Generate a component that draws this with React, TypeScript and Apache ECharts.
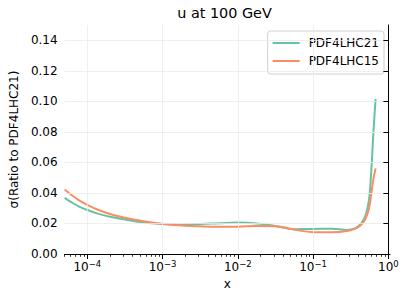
import React, { useEffect, useRef } from 'react';
import * as echarts from 'echarts';

// x values (momentum fraction)
const xValues = [
  5.0e-5, 6.3e-5, 7.9e-5, 1.0e-4, 1.41e-4, 2.0e-4, 3.16e-4, 5.62e-4, 1.0e-3, 1.78e-3,
  3.16e-3, 5.62e-3, 1.0e-2, 1.78e-2, 3.16e-2, 5.62e-2, 0.1, 0.178, 0.282, 0.355,
  0.417, 0.468, 0.501, 0.553, 0.594, 0.631, 0.676,
];
const pdf4lhc21 = [
  0.0368, 0.0336, 0.0309, 0.0288, 0.0263, 0.0244, 0.0226, 0.0206, 0.0197, 0.0194,
  0.0196, 0.0201, 0.0206, 0.02, 0.0184, 0.0162, 0.0164, 0.0166, 0.0158, 0.0166,
  0.019, 0.0225, 0.0257, 0.0356, 0.0554, 0.079, 0.1016,
];
const pdf4lhc15 = [
  0.0422, 0.0383, 0.035, 0.0322, 0.0288, 0.0262, 0.0237, 0.0214, 0.0197, 0.0187,
  0.0181, 0.0178, 0.0179, 0.0183, 0.0182, 0.016, 0.0143, 0.0142, 0.015, 0.0165,
  0.0183, 0.021, 0.0236, 0.03, 0.04, 0.0488, 0.0561,
];
const seriesNames = ['PDF4LHC21', 'PDF4LHC15'];
const seriesColors = ['#66c2a5', '#fc8d62'];
const xTickExponents = [-4, -3, -2, -1, 0];
const yTicks = [0, 0.02, 0.04, 0.06, 0.08, 0.1, 0.12, 0.14];
const titleText = 'u at 100 GeV';
const xName = 'x';
const yName = 'σ(Ratio to PDF4LHC21)';

const X_MIN = 5e-5;
const X_MAX = 1.05;
const Y_MIN = 0;
const Y_MAX = 0.15;

const FONT = 'DejaVu Sans';
const expText = (n: number) => String(Math.round(n)).replace('-', '−');

export default function App() {
  const ref = useRef<HTMLDivElement>(null);
  useEffect(() => {
    if (!ref.current) return;
    const chart = echarts.init(ref.current, undefined, { renderer: 'svg' });
    const lmin = Math.log10(X_MIN);
    const lmax = Math.log10(X_MAX);
    const minor: number[] = [];
    for (let e = -6; e <= 0; e++) {
      for (let m = 2; m <= 9; m++) {
        const l = Math.log10(m * Math.pow(10, e));
        if (l >= lmin && l <= lmax) minor.push(l);
      }
    }
    const data = [pdf4lhc21, pdf4lhc15];
    const option: any = {
      animation: false,
      textStyle: { fontFamily: FONT },
      graphic: [
        {
          type: 'text',
          x: 224.5,
          y: 13,
          style: {
            text: titleText,
            fontFamily: FONT,
            fontSize: 14.4,
            fill: '#000',
            align: 'center',
            verticalAlign: 'middle',
          },
        },
      ],
      grid: { left: 59, right: 17, top: 25, bottom: 45, containLabel: false },
      legend: {
        orient: 'vertical',
        right: 23,
        top: 31,
        icon: 'rect',
        itemWidth: 27,
        itemHeight: 2,
        itemGap: 4,
        padding: [5, 5, 6, 5],
        backgroundColor: 'rgba(255,255,255,0.8)',
        borderColor: '#d0d0d0',
        borderWidth: 1,
        borderRadius: 3,
        textStyle: { fontFamily: FONT, fontSize: 12, color: '#000', padding: [0, 0, 0, 4], lineHeight: 14 },
        data: seriesNames,
      },
      xAxis: [
        {
          type: 'value',
          min: lmin,
          max: lmax,
          z: 5,
          name: xName,
          nameLocation: 'middle',
          nameGap: 23,
          nameTextStyle: { fontFamily: FONT, fontSize: 12, color: '#000' },
          axisLine: { show: true, lineStyle: { color: '#000', width: 1 } },
          axisTick: { show: true, length: 5, customValues: xTickExponents, lineStyle: { color: '#000', width: 1 } },
          axisLabel: {
            customValues: xTickExponents,
            formatter: (v: number) => '{b|10}{s|' + expText(v) + '}',
            rich: {
              b: { fontFamily: FONT, fontSize: 12, color: '#000', lineHeight: 14, verticalAlign: 'bottom' },
              s: { fontFamily: FONT, fontSize: 8.5, color: '#000', lineHeight: 8, verticalAlign: 'top' },
            },
            margin: 5,
          },
          splitLine: { show: false },
        },
        {
          type: 'value',
          min: lmin,
          max: lmax,
          position: 'bottom',
          z: 5,
          axisLine: { show: false },
          axisTick: { show: true, length: 2.8, customValues: minor, lineStyle: { color: '#000', width: 0.8 } },
          axisLabel: { show: false },
          splitLine: { show: false },
        },
      ],
      yAxis: {
        type: 'value',
        min: Y_MIN,
        max: Y_MAX,
        z: 5,
        name: yName,
        nameLocation: 'middle',
        nameGap: 35,
        nameTextStyle: { fontFamily: FONT, fontSize: 12, color: '#000' },
        axisLine: { show: true, lineStyle: { color: '#000', width: 1 } },
        axisTick: { show: true, length: 5, customValues: yTicks, lineStyle: { color: '#000', width: 1 } },
        axisLabel: {
          customValues: yTicks,
          formatter: (v: number) => v.toFixed(2),
          fontFamily: FONT,
          fontSize: 12,
          color: '#000',
          margin: 7,
        },
        splitLine: { show: false },
      },
      series: [
        {
          type: 'line',
          name: '_grid',
          data: [],
          z: 1,
          silent: true,
          markLine: {
            silent: true,
            symbol: ['none', 'none'],
            animation: false,
            label: { show: false },
            emphasis: { disabled: true },
            lineStyle: { color: '#ebebeb', width: 0.8, type: 'solid' },
            data: [
              ...xTickExponents.map((e) => ({ xAxis: e })),
              ...yTicks.filter((v) => v > Y_MIN).map((v) => ({ yAxis: v })),
            ],
          },
        },
        ...seriesNames.map((name, i) => ({
          type: 'line',
          name,
          z: 3,
          smooth: 0.4,
          symbol: 'none',
          showSymbol: false,
          color: seriesColors[i],
          lineStyle: { color: seriesColors[i], width: 2 },
          data: xValues.map((x, j) => [Math.log10(x), data[i][j]]),
        })),
      ],
    };
    chart.setOption(option);
    return () => chart.dispose();
  }, []);
  return <div ref={ref} style={{ width: 407, height: 299, position: 'absolute', left: 0, top: 0 }} />;
}
